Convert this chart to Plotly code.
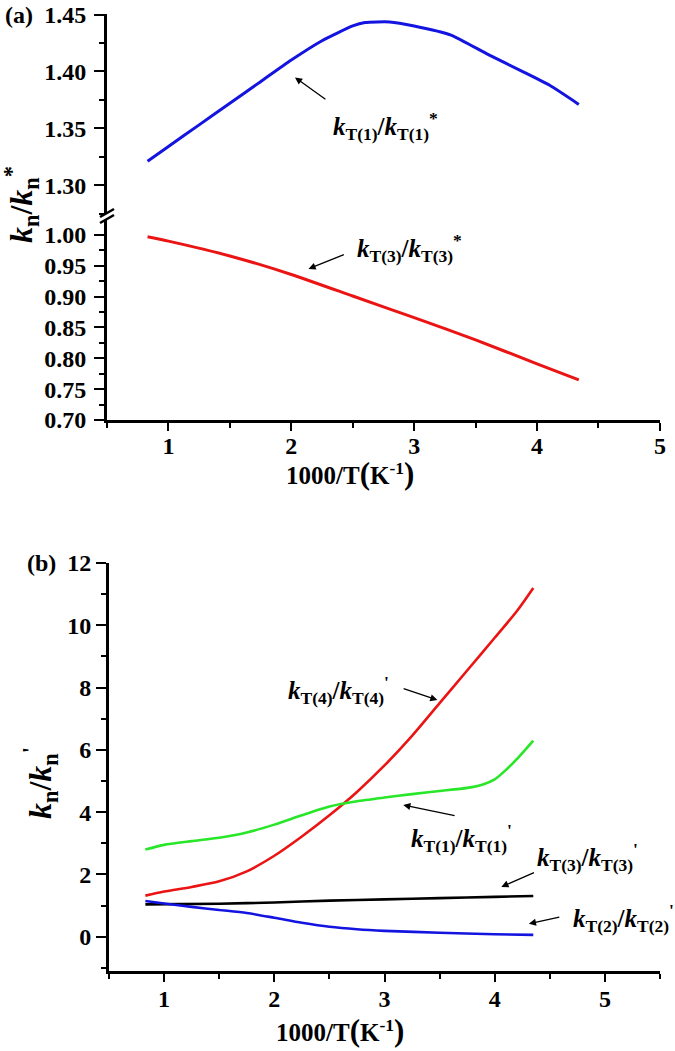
import plotly.graph_objects as go

# ---------------- data ----------------
# panel (a)
xa_blue = [0.83, 1.0, 1.25, 1.5, 1.75, 2.0, 2.25, 2.5, 2.6, 2.8, 3.0, 3.3, 3.6, 3.9, 4.1, 4.34]
ya_blue = [1.321, 1.334, 1.353, 1.372, 1.391, 1.410, 1.427, 1.440, 1.443, 1.4435, 1.440, 1.432, 1.415, 1.399, 1.388, 1.371]
xa_red = [0.83, 1.0, 1.5, 2.0, 2.5, 3.0, 3.5, 4.0, 4.34]
ya_red = [0.997, 0.990, 0.966, 0.936, 0.901, 0.866, 0.830, 0.791, 0.765]

# panel (b)
xb_red = [0.83, 1.0, 1.25, 1.5, 1.75, 2.0, 2.25, 2.5, 2.75, 3.0, 3.25, 3.5, 3.75, 4.0, 4.2, 4.35]
yb_red = [1.32, 1.45, 1.6, 1.78, 2.1, 2.6, 3.22, 3.9, 4.65, 5.5, 6.45, 7.5, 8.55, 9.6, 10.45, 11.2]
xb_green = [0.83, 1.0, 1.25, 1.5, 1.75, 2.0, 2.25, 2.5, 2.75, 3.0, 3.25, 3.5, 3.75, 3.9, 4.0, 4.1, 4.2, 4.35]
yb_green = [2.8, 2.95, 3.07, 3.18, 3.35, 3.6, 3.9, 4.18, 4.35, 4.47, 4.58, 4.68, 4.78, 4.9, 5.05, 5.35, 5.7, 6.3]
xb_black = [0.83, 1.5, 2.0, 2.5, 3.0, 3.5, 4.0, 4.35]
yb_black = [1.04, 1.06, 1.10, 1.16, 1.20, 1.24, 1.28, 1.31]
xb_blue = [0.83, 1.0, 1.25, 1.5, 1.75, 2.0, 2.25, 2.5, 2.75, 3.0, 3.5, 4.0, 4.35]
yb_blue = [1.15, 1.07, 0.96, 0.86, 0.76, 0.61, 0.45, 0.32, 0.24, 0.19, 0.13, 0.08, 0.06]

FONT = "Liberation Serif"
W, H = 675, 1051

def px(x):
    return x / W

def py(y):
    return (H - y) / H

fig = go.Figure()
fig.add_trace(go.Scatter(x=xa_blue, y=ya_blue, mode="lines", xaxis="x", yaxis="y2",
                         line=dict(color="rgb(20,20,225)", width=3, shape="spline", smoothing=0.5)))
fig.add_trace(go.Scatter(x=xa_red, y=ya_red, mode="lines", xaxis="x", yaxis="y",
                         line=dict(color="rgb(235,20,20)", width=3, shape="spline", smoothing=0.5)))
fig.add_trace(go.Scatter(x=xb_red, y=yb_red, mode="lines", xaxis="x2", yaxis="y3",
                         line=dict(color="rgb(235,20,20)", width=2.6, shape="spline", smoothing=0.8)))
fig.add_trace(go.Scatter(x=xb_green, y=yb_green, mode="lines", xaxis="x2", yaxis="y3",
                         line=dict(color="rgb(40,230,40)", width=2.6, shape="spline", smoothing=0.6)))
fig.add_trace(go.Scatter(x=xb_black, y=yb_black, mode="lines", xaxis="x2", yaxis="y3",
                         line=dict(color="black", width=2.6, shape="spline", smoothing=0.6)))
fig.add_trace(go.Scatter(x=xb_blue, y=yb_blue, mode="lines", xaxis="x2", yaxis="y3",
                         line=dict(color="rgb(20,20,225)", width=2.6, shape="spline", smoothing=0.8)))

tickfont = dict(family=FONT, size=24, color="black", weight="bold")
common = dict(showline=True, linecolor="black", linewidth=3, ticks="outside", tickcolor="black",
              tickwidth=2, showgrid=False, zeroline=False, tickfont=tickfont, mirror=False,
              automargin=False)
mnr = dict(ticks="outside", tickcolor="black", tickwidth=2, ticklen=5, showgrid=False)

fig.update_layout(
    width=W, height=H, margin=dict(l=0, r=0, t=0, b=0, pad=0, autoexpand=False),
    paper_bgcolor="white", plot_bgcolor="white", showlegend=False,
    xaxis=dict(domain=[px(107), px(660)], range=[0.5, 5.001], anchor="y", dtick=1, tick0=0,
               ticklen=8, ticklabelstandoff=-6, minor=dict(dtick=0.5, tick0=0, **mnr), **common),
    yaxis=dict(domain=[py(420), py(220)], range=[0.70, 1.0243], anchor="x", dtick=0.05, tick0=0,
               tickformat=".2f", ticklen=10, ticklabelstandoff=3,
               minor=dict(dtick=0.025, tick0=0, **mnr), **common),
    yaxis2=dict(domain=[py(214), py(14)], range=[1.2746, 1.4505], anchor="x", dtick=0.05, tick0=0,
                tickformat=".2f", ticklen=10, ticklabelstandoff=3,
                minor=dict(dtick=0.025, tick0=0, **mnr), **common),
    xaxis2=dict(domain=[px(109), px(660)], range=[0.5, 5.5], anchor="y3", dtick=1, tick0=0,
                ticklen=8, ticklabelstandoff=-4, minor=dict(dtick=0.5, tick0=0, **mnr), **common),
    yaxis3=dict(domain=[py(971), py(563)], range=[-1.1, 12.001], anchor="x2", dtick=2, tick0=0,
                ticklen=10, minor=dict(dtick=1, tick0=0, **mnr), **common),
)

# axis break marks on panel (a)
for y0 in (217, 223):
    fig.add_shape(type="line", xref="paper", yref="paper",
                  x0=px(100), y0=py(y0), x1=px(114), y1=py(y0 - 8),
                  line=dict(color="black", width=2.5))

ann = []

def label(text, x, y, xr, yr, xanchor="left", size=25):
    ann.append(dict(text=text, x=x, y=y, xref=xr, yref=yr, showarrow=False,
                    xanchor=xanchor, yanchor="middle",
                    font=dict(family=FONT, size=size, color="black")))

def arrow(xh, yh, xt, yt, xr, yr):
    ann.append(dict(text="", x=xh, y=yh, ax=xt, ay=yt, xref=xr, yref=yr, axref=xr, ayref=yr,
                    showarrow=True, arrowhead=2, arrowsize=1.1, arrowwidth=1.3, arrowcolor="black"))

def kr(sub, mark):
    return ("<b><i>k</i><sub>T(%s)</sub>/<i>k</i><sub>T(%s)</sub><sup>%s</sup></b>" % (sub, sub, mark))

# panel (a)
label(kr(1, "*"), 2.32, 1.352, "x", "y2")
arrow(2.03, 1.3947, 2.29, 1.3746, "x", "y2")
label(kr(3, "*"), 2.52, 0.979, "x", "y")
arrow(2.14, 0.945, 2.44, 0.969, "x", "y")

# panel (b)
label(kr(4, "'"), 2.58, 7.92, "x2", "y3", xanchor="center")
arrow(3.48, 7.6, 3.16, 7.98, "x2", "y3")
label(kr(1, "'"), 3.22, 3.17, "x2", "y3")
arrow(3.17, 4.23, 3.65, 3.88, "x2", "y3")
label(kr(3, "'"), 4.37, 2.56, "x2", "y3")
arrow(4.06, 1.6, 4.37, 2.08, "x2", "y3")
label(kr(2, "'"), 4.69, 0.61, "x2", "y3")
arrow(4.31, 0.42, 4.6, 0.64, "x2", "y3")

# panel letters
label("<b>(a)</b>", px(3), py(15), "paper", "paper", xanchor="left", size=24)
label("<b>(b)</b>", px(25), py(563), "paper", "paper", xanchor="left", size=24)

# axis titles
xt = ("<b>1000/T<span style='font-size:31px'>(</span>K<sup>-1</sup>"
      "<span style='font-size:31px'>)</span></b>")
label(xt, px(350), py(473), "paper", "paper", xanchor="center", size=25)
label(xt, px(340), py(1030), "paper", "paper", xanchor="center", size=25)

for txt, x, y in [("<b><i>k</i><sub>n</sub>/<i>k</i><sub>n</sub><sup>*</sup></b>", 21, 205),
                  ("<b><i>k</i><sub>n</sub>/<i>k</i><sub>n</sub><sup>'</sup></b>", 40, 783)]:
    ann.append(dict(text=txt, x=px(x), y=py(y), xref="paper", yref="paper", showarrow=False,
                    textangle=-90, xanchor="center", yanchor="middle",
                    font=dict(family=FONT, size=32, color="black")))

fig.update_layout(annotations=ann)
fig.write_html("out.html", config={"displayModeBar": False},
               post_script="document.body.style.margin='0';")
